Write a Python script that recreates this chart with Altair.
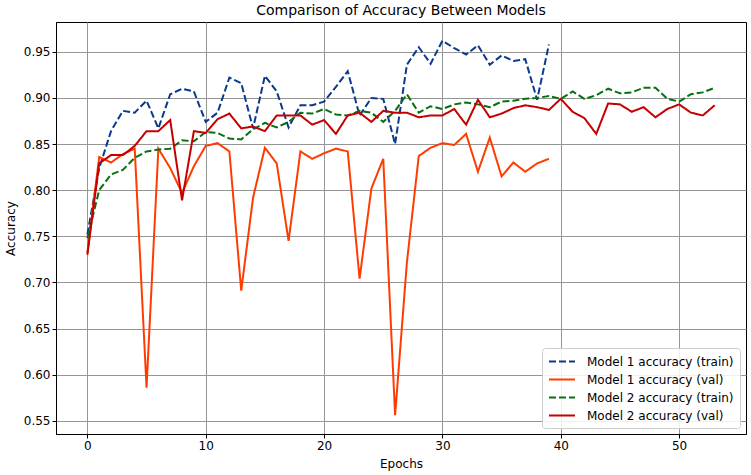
import altair as alt
import pandas as pd

m1_train = [0.752, 0.824, 0.864, 0.886, 0.884, 0.897, 0.867, 0.904, 0.910, 0.907,
            0.874, 0.884, 0.922, 0.916, 0.867, 0.924, 0.907, 0.868, 0.892, 0.892,
            0.896, 0.912, 0.929, 0.881, 0.900, 0.899, 0.850, 0.936, 0.955, 0.937,
            0.962, 0.954, 0.947, 0.957, 0.936, 0.946, 0.940, 0.942, 0.898, 0.958]
m1_val = [0.732, 0.836, 0.830, 0.839, 0.845, 0.586, 0.845, 0.824, 0.797, 0.826,
          0.848, 0.851, 0.842, 0.691, 0.792, 0.846, 0.829, 0.745, 0.842, 0.834,
          0.840, 0.845, 0.842, 0.704, 0.802, 0.834, 0.556, 0.722, 0.837, 0.846,
          0.851, 0.849, 0.861, 0.820, 0.857, 0.815, 0.830, 0.820, 0.829, 0.834]
m2_train = [0.748, 0.800, 0.817, 0.822, 0.835, 0.842, 0.844, 0.845, 0.854, 0.853,
            0.863, 0.862, 0.856, 0.855, 0.866, 0.873, 0.868, 0.874, 0.884, 0.883,
            0.888, 0.882, 0.881, 0.886, 0.884, 0.874, 0.886, 0.904, 0.884, 0.891,
            0.888, 0.893, 0.895, 0.893, 0.890, 0.896, 0.897, 0.899, 0.900, 0.902,
            0.899, 0.907, 0.899, 0.903, 0.910, 0.905, 0.906, 0.911, 0.911, 0.899,
            0.896, 0.904, 0.906, 0.911]
m2_val = [0.730, 0.829, 0.838, 0.838, 0.848, 0.864, 0.864, 0.876, 0.789, 0.864,
          0.862, 0.877, 0.883, 0.867, 0.869, 0.864, 0.881, 0.881, 0.881, 0.871,
          0.876, 0.861, 0.881, 0.884, 0.874, 0.886, 0.884, 0.884, 0.879, 0.881,
          0.881, 0.888, 0.871, 0.898, 0.879, 0.883, 0.889, 0.892, 0.890, 0.887,
          0.899, 0.885, 0.878, 0.861, 0.894, 0.893, 0.885, 0.890, 0.879, 0.888,
          0.893, 0.884, 0.881, 0.892]

series_names = ["Model 1 accuracy (train)", "Model 1 accuracy (val)",
                "Model 2 accuracy (train)", "Model 2 accuracy (val)"]
series_values = [m1_train, m1_val, m2_train, m2_val]
series_colors = ["#0a3a8c", "#ff3c00", "#087010", "#c40000"]
series_dash = [[7, 3], [1, 0], [7, 3], [1, 0]]
x_ticks = [0, 10, 20, 30, 40, 50]
y_ticks = [0.55, 0.60, 0.65, 0.70, 0.75, 0.80, 0.85, 0.90, 0.95]

rows = []
for order, (name, vals) in enumerate(zip(series_names, series_values)):
    for i, v in enumerate(vals):
        rows.append({"epoch": i, "acc": v, "series": name, "order": order})
df = pd.DataFrame(rows)

xmax = max(len(v) for v in series_values) - 1
xm = 0.05 * xmax
allv = [v for s in series_values for v in s]
ymin, ymax = min(allv), max(allv)
ym = 0.05 * (ymax - ymin)

legend = alt.Legend(title=None, orient="bottom-right", offset=6,
                    fillColor="rgba(255,255,255,0.85)", strokeColor="#cccccc",
                    cornerRadius=3, padding=6, symbolType="M-1,0L3,0",
                    symbolSize=169, symbolStrokeWidth=2, labelFontSize=12,
                    labelFont="DejaVu Sans", labelColor="black", rowPadding=4,
                    labelOffset=24)

chart = alt.Chart(df).mark_line(strokeWidth=2, clip=True).encode(
    x=alt.X("epoch:Q", title="Epochs",
            scale=alt.Scale(domain=[-xm, xmax + xm], nice=False, zero=False),
            axis=alt.Axis(values=x_ticks, format="d")),
    y=alt.Y("acc:Q", title="Accuracy",
            scale=alt.Scale(domain=[ymin - ym, ymax + ym], nice=False, zero=False),
            axis=alt.Axis(values=y_ticks, format=".2f")),
    color=alt.Color("series:N", scale=alt.Scale(domain=series_names, range=series_colors),
                    legend=legend),
    strokeDash=alt.StrokeDash("series:N", scale=alt.Scale(domain=series_names, range=series_dash),
                              legend=legend),
    detail="series:N",
    order="epoch:Q",
).properties(
    width=690, height=412,
    title=alt.Title("Comparison of Accuracy Between Models", fontSize=14,
                    font="DejaVu Sans", fontWeight="normal", color="black", offset=4),
    autosize=alt.AutoSizeParams(type="none"),
    padding={"left": 56, "top": 22, "right": 5, "bottom": 41},
).configure_view(
    stroke="black", strokeWidth=1
).configure_axis(
    grid=True, gridColor="#959595", gridWidth=1, gridOpacity=1,
    domainColor="black", domainWidth=1, tickColor="black", tickSize=4,
    labelFont="DejaVu Sans", labelFontSize=12, labelColor="black", labelPadding=2,
    titleFont="DejaVu Sans", titleFontSize=12, titleFontWeight="normal", titleColor="black",
).configure_axisX(titlePadding=7).configure_axisY(titlePadding=6)

chart.save("out.html", embed_options={"renderer": "svg", "actions": False})
